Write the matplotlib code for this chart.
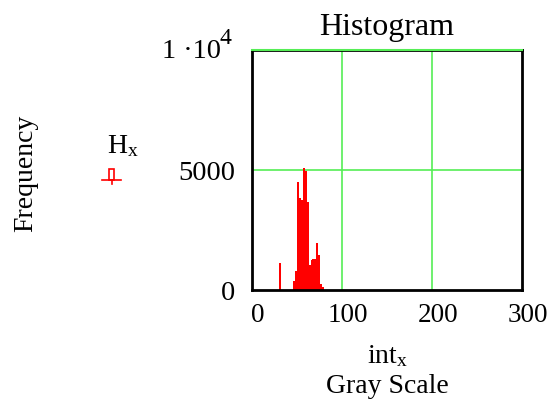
import matplotlib
matplotlib.use("Agg")
from matplotlib import pyplot as plt
from matplotlib.lines import Line2D
from matplotlib.patches import Rectangle
from matplotlib.transforms import ScaledTranslation

# histogram bins (gray level, left edge) and counts
bin_left = [30, 45.2, 47.4, 49.6, 51.8, 54.0, 56.2, 58.4, 60.6, 62.8,
            65.0, 67.2, 69.4, 71.6, 73.8, 76.0, 78.2]
counts = [1110, 370, 790, 4520, 3840, 3760, 5100, 4960, 3650, 1030,
          1240, 1280, 1280, 1940, 1450, 250, 125]
bin_width = 2.2

xticks = [0, 100, 200, 300]
yticks = [0, 5000, 10000]
ytick_labels = ["0", "5000", ""]  # top label drawn by hand (big exponent)

plt.rcParams['font.family'] = ['Liberation Serif', 'DejaVu Serif']
plt.rcParams['mathtext.fontset'] = 'custom'
plt.rcParams['mathtext.rm'] = 'Liberation Serif'
plt.rcParams['mathtext.it'] = 'Liberation Serif'

fig = plt.figure(figsize=(5.54, 4.07), dpi=100)
W, H = 554, 407
ax = fig.add_axes([252 / W, (H - 290) / H, 270 / W, 240 / H])

ax.bar(bin_left, counts, width=bin_width, align='edge', color='red', linewidth=0)

ax.set_xlim(0, 300)
ax.set_ylim(0, 9920)
gcol = '#55ee55'
for gx in [100, 200]:
    ax.axvline(gx, color=gcol, lw=1.2, zorder=0)
ax.axhline(5000, color=gcol, lw=1.2, zorder=0)
ax.axhline(10000, color=gcol, lw=1.5, clip_on=False, zorder=4)

for s in ax.spines.values():
    s.set_linewidth(2)
    s.set_color('black')

ax.set_xticks(xticks)
ax.set_xticklabels([str(t) for t in xticks], fontsize=19.5)
ax.set_yticks(yticks)
ax.set_yticklabels(ytick_labels, fontsize=20.5)
ax.tick_params(length=0)
ax.tick_params(axis='x', pad=9)
ax.tick_params(axis='y', pad=12)
shift = ScaledTranslation(6 / 100, 0, fig.dpi_scale_trans)
for lab in ax.get_xticklabels():
    lab.set_transform(lab.get_transform() + shift)

# 1·10^4 label
fig.text(221 / W, 1 - 58 / H, "1 ·10", fontsize=20.5, ha='right', va='baseline')
fig.text(220 / W, 1 - 44 / H, "4", fontsize=17, ha='left', va='baseline')

fig.text(387 / W, 1 - 35 / H, "Histogram", fontsize=23, ha='center', va='baseline')
fig.text(388 / W, 1 - 363 / H, r"int$_{\mathrm{x}}$", fontsize=20, ha='center', va='baseline')
fig.text(387 / W, 1 - 393 / H, "Gray Scale", fontsize=20, ha='center', va='baseline')
fig.text(26 / W, 1 - 173 / H, "Frequency", fontsize=20, ha='center', va='center', rotation=90)
fig.text(123 / W, 1 - 153 / H, r"H$_{\mathrm{x}}$", fontsize=20, ha='center', va='baseline')

# legend sample (small outlined bar on a baseline)
fig.add_artist(Line2D([102 / W, 121 / W], [1 - 180 / H, 1 - 180 / H], color='red', lw=1.2))
fig.add_artist(Line2D([111.5 / W, 111.5 / W], [1 - 180 / H, 1 - 184 / H], color='red', lw=1.2))
fig.add_artist(Rectangle((109 / W, 1 - 180 / H), 5 / W, 11 / H, fill=False, edgecolor='red', lw=1.2,
                         transform=fig.transFigure))

fig.savefig("out.png", dpi=100)
